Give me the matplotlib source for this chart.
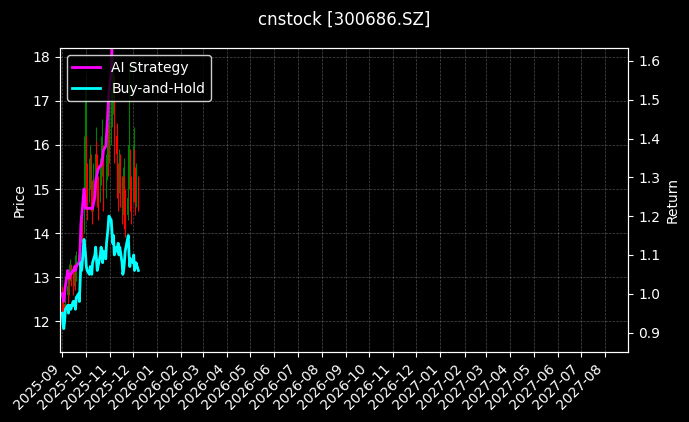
import matplotlib
matplotlib.use("Agg")
import matplotlib.pyplot as plt
import matplotlib.dates as mdates
import numpy as np
import pandas as pd

plt.style.use("dark_background")

dates = pd.bdate_range("2025-09-01", "2025-12-08")

close = [12.5, 12.3, 12.1, 12.4, 12.6, 12.8, 12.7, 13.0, 13.2, 13.1, 12.9, 13.1, 13.2, 13.0, 13.3, 13.5, 13.4, 13.8, 14.2, 14.0, 15.0, 15.5,
         16.0, 15.4, 14.8, 15.2, 15.6, 15.0, 14.6, 15.1, 15.3, 15.8, 15.5, 15.1, 14.8, 15.2, 15.6, 15.9, 15.4, 15.0, 15.3, 15.7, 16.1, 15.8, 16.2,
         16.5, 17.0, 17.4, 16.8, 16.2, 15.8, 15.3, 15.0, 15.4, 15.1, 14.7, 14.9, 15.2, 14.6, 14.4, 14.8, 15.3, 15.6, 15.0, 14.7,
         15.4, 15.8, 15.2, 14.9, 15.1, 14.8]
high = [12.8, 12.6, 12.4, 12.6, 12.9, 13.1, 13.0, 13.3, 13.4, 13.3, 13.2, 13.3, 13.5, 13.3, 13.6, 13.8, 13.7, 14.4, 14.6, 14.5, 16.2, 17.3,
        17.6, 16.2, 15.6, 15.7, 16.0, 15.8, 15.2, 15.6, 15.8, 16.4, 16.1, 15.8, 15.3, 15.7, 16.2, 16.6, 16.0, 15.6, 15.8, 16.3, 16.8, 16.5, 17.0,
        17.3, 17.9, 18.0, 17.6, 17.0, 16.5, 16.0, 15.6, 15.9, 15.8, 15.3, 15.5, 15.7, 15.3, 15.0, 15.4, 16.0, 17.8, 15.9, 15.3,
        16.0, 16.4, 15.9, 15.5, 15.6, 15.3]
low = [12.2, 12.0, 11.9, 12.0, 12.3, 12.5, 12.4, 12.6, 12.9, 12.8, 12.6, 12.8, 12.9, 12.7, 12.9, 13.2, 13.1, 13.3, 13.8, 13.7, 14.0, 14.9,
       15.2, 14.7, 14.3, 14.7, 15.0, 14.5, 14.2, 14.5, 14.9, 15.2, 15.0, 14.6, 14.3, 14.7, 15.1, 15.3, 14.9, 14.5, 14.8, 15.2, 15.6, 15.3, 15.6,
       16.0, 16.4, 16.7, 16.1, 15.6, 15.2, 14.8, 14.5, 14.9, 14.6, 14.2, 14.4, 14.7, 14.1, 13.9, 14.3, 14.8, 15.0, 14.5, 14.2,
       14.7, 15.2, 14.7, 14.4, 14.6, 14.5]

ai_strategy = [1.00, 0.99, 0.98, 1.00, 1.02, 1.06, 1.05, 1.04, 1.05, 1.05, 1.06, 1.06, 1.07, 1.06, 1.07, 1.08, 1.08, 1.12, 1.18, 1.20, 1.27, 1.25,
               1.22, 1.22, 1.22, 1.22, 1.22, 1.22, 1.22, 1.22, 1.25, 1.29, 1.30, 1.31, 1.32, 1.33, 1.33, 1.34, 1.35, 1.37, 1.38, 1.41, 1.44, 1.48, 1.52,
               1.57, 1.63, 1.68, 1.70, 1.66, 1.68, 1.67, 1.70, 1.66, 1.69, 1.64, 1.65, 1.66, 1.64, 1.68, 1.72, 1.74, 1.68, 1.66, 1.66,
               1.65, 1.68, 1.66, 1.67, 1.66, 1.66]
buy_hold = [0.95, 0.92, 0.91, 0.93, 0.96, 0.97, 0.95, 0.97, 0.97, 0.96, 0.98, 0.97, 0.98, 0.96, 0.99, 1.00, 0.98, 1.03, 1.08, 1.06, 1.14, 1.12,
            1.10, 1.07, 1.06, 1.05, 1.07, 1.06, 1.05, 1.08, 1.10, 1.12, 1.09, 1.06, 1.07, 1.10, 1.12, 1.10, 1.08, 1.11, 1.09, 1.13, 1.15, 1.17, 1.20,
            1.19, 1.16, 1.13, 1.15, 1.10, 1.12, 1.11, 1.13, 1.10, 1.12, 1.08, 1.05, 1.06, 1.08, 1.11, 1.14, 1.15, 1.10, 1.07, 1.09,
            1.08, 1.10, 1.06, 1.07, 1.08, 1.06]

close = np.array(close)
opn = np.concatenate([[12.6], close[:-1]])
x = mdates.date2num(dates)
up = close >= opn
colors = np.where(up, "green", "red")

fig = plt.figure(figsize=(6.89, 4.22), dpi=100)
ax = fig.add_axes([0.087, 0.166, 0.825, 0.72])
ax.vlines(x, low, high, colors=colors, linewidth=0.8)
ax.bar(x, np.abs(close - opn), bottom=np.minimum(close, opn), width=0.6, color=colors)
ax.set_ylabel("Price")
ax.set_ylim(11.3, 18.2)
ax.grid(True, linestyle="--", linewidth=0.5, color="gray", alpha=0.6)

ax2 = ax.twinx()
ax2.plot(dates, ai_strategy, color="magenta", linewidth=2, label="AI Strategy")
ax2.plot(dates, buy_hold, color="cyan", linewidth=2, label="Buy-and-Hold")
ax2.set_ylabel("Return")
ax2.set_ylim(0.85, 1.633)
ax2.legend(loc="upper left", facecolor="black", edgecolor="white", framealpha=0.8)

ax.set_xlim(mdates.date2num(pd.Timestamp("2025-08-29")), mdates.date2num(pd.Timestamp("2027-08-31")))
ax.xaxis.set_major_locator(mdates.MonthLocator())
ax.xaxis.set_major_formatter(mdates.DateFormatter("%Y-%m"))
plt.setp(ax.get_xticklabels(), rotation=45, ha="right")

fig.suptitle("cnstock [300686.SZ]", y=0.975)
fig.savefig("out.png", facecolor="black")
